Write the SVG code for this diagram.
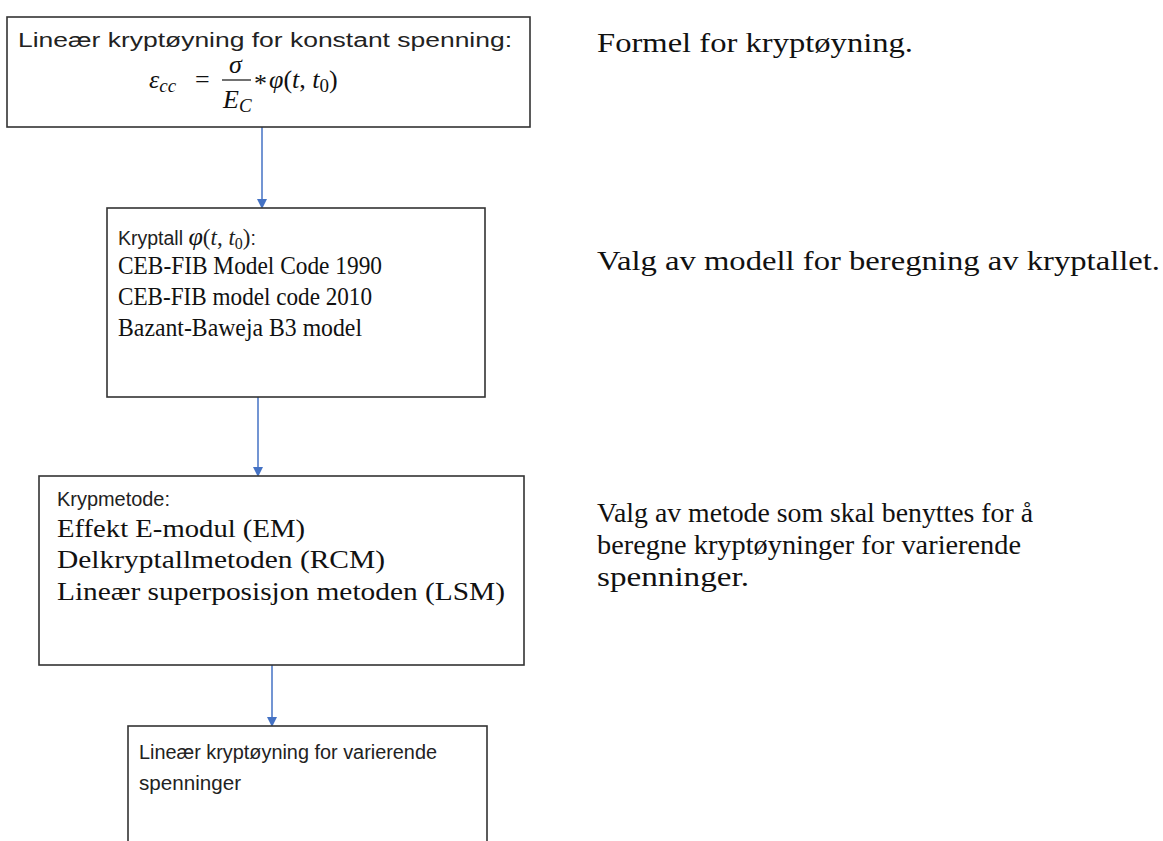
<svg xmlns="http://www.w3.org/2000/svg" width="1163" height="841" viewBox="0 0 1163 841">
<style>
.box{fill:#fff;stroke:#333;stroke-width:1.6}
.sans{font-family:"Liberation Sans",Arial,sans-serif;font-size:19.5px;fill:#222}
.serif{font-family:"Liberation Serif","Times New Roman",serif;font-size:25.5px;fill:#111}
.note{font-family:"Liberation Serif","Times New Roman",serif;font-size:28px;fill:#111}
.math{font-family:"Liberation Serif","Times New Roman",serif;font-style:italic;font-size:26px;fill:#111}
.mathr{font-family:"Liberation Serif","Times New Roman",serif;font-size:26px;fill:#111}
.conn{stroke:#4472C4;stroke-width:1.5;fill:none}
</style>
<defs>
<marker id="ah" markerWidth="10" markerHeight="10" refX="8" refY="5" orient="auto" markerUnits="userSpaceOnUse">
<path d="M0,0 L10,5 L0,10 Z" fill="#4472C4"/>
</marker>
</defs>
<rect width="1163" height="841" fill="#fff"/>
<g id="connectors">
<line class="conn" x1="262" y1="127" x2="262" y2="207" marker-end="url(#ah)"/>
<line class="conn" x1="258" y1="397" x2="258" y2="475" marker-end="url(#ah)"/>
<line class="conn" x1="272" y1="665" x2="272" y2="725" marker-end="url(#ah)"/>
</g>
<g id="node1">
<rect class="box" x="7" y="17" width="523" height="110"/>
<text class="sans" x="18" y="47" textLength="494" lengthAdjust="spacingAndGlyphs">Lineær kryptøyning for konstant spenning:</text>
<text class="math" x="149" y="88">ε<tspan font-size="19" dy="4">cc</tspan></text>
<text class="mathr" x="195" y="88">=</text>
<text class="math" x="229" y="73" font-size="25">σ</text>
<line x1="222" y1="80" x2="251" y2="80" stroke="#111" stroke-width="1.2"/>
<text class="math" x="223" y="108">E<tspan font-size="19" dy="4">C</tspan></text>
<text class="mathr" x="254" y="92">*</text>
<text class="mathr" x="269" y="88"><tspan class="math">φ</tspan>(<tspan class="math">t</tspan>, <tspan class="math">t</tspan><tspan font-size="19" dy="4">0</tspan><tspan dy="-4">)</tspan></text>
</g>
<g id="note1">
<text class="note" x="597" y="52" textLength="316" lengthAdjust="spacingAndGlyphs">Formel for kryptøyning.</text>
</g>
<g id="node2">
<rect class="box" x="107" y="208" width="378" height="189"/>
<text class="sans" x="118" y="245" font-size="20">Kryptall <tspan class="math" font-size="23">φ</tspan><tspan font-family="Liberation Serif" font-size="23">(<tspan font-style="italic">t</tspan>, <tspan font-style="italic">t</tspan><tspan font-size="16" dy="4">0</tspan><tspan dy="-4">)</tspan></tspan>:</text>
<text class="serif" x="118" y="274" textLength="264" lengthAdjust="spacingAndGlyphs">CEB-FIB Model Code 1990</text>
<text class="serif" x="118" y="305" textLength="254" lengthAdjust="spacingAndGlyphs">CEB-FIB model code 2010</text>
<text class="serif" x="118" y="336" textLength="244" lengthAdjust="spacingAndGlyphs">Bazant-Baweja B3 model</text>
</g>
<g id="note2">
<text class="note" x="597" y="270" textLength="563" lengthAdjust="spacingAndGlyphs">Valg av modell for beregning av kryptallet.</text>
</g>
<g id="node3">
<rect class="box" x="39" y="476" width="485" height="189"/>
<text class="sans" x="57" y="506" font-size="20" textLength="113" lengthAdjust="spacingAndGlyphs">Krypmetode:</text>
<text class="serif" x="57" y="537" textLength="248" lengthAdjust="spacingAndGlyphs">Effekt E-modul (EM)</text>
<text class="serif" x="57" y="568" textLength="328" lengthAdjust="spacingAndGlyphs">Delkryptallmetoden (RCM)</text>
<text class="serif" x="57" y="600" textLength="448" lengthAdjust="spacingAndGlyphs">Lineær superposisjon metoden (LSM)</text>
</g>
<g id="note3">
<text class="note" x="597" y="522" textLength="436" lengthAdjust="spacingAndGlyphs">Valg av metode som skal benyttes for å</text>
<text class="note" x="597" y="554" textLength="424" lengthAdjust="spacingAndGlyphs">beregne kryptøyninger for varierende</text>
<text class="note" x="597" y="586" textLength="152" lengthAdjust="spacingAndGlyphs">spenninger.</text>
</g>
<g id="node4">
<rect class="box" x="128" y="726" width="359" height="130"/>
<text class="sans" x="139" y="759" font-size="20" textLength="298" lengthAdjust="spacingAndGlyphs">Lineær kryptøyning for varierende</text>
<text class="sans" x="139" y="790" font-size="20" textLength="102" lengthAdjust="spacingAndGlyphs">spenninger</text>
</g>
</svg>
